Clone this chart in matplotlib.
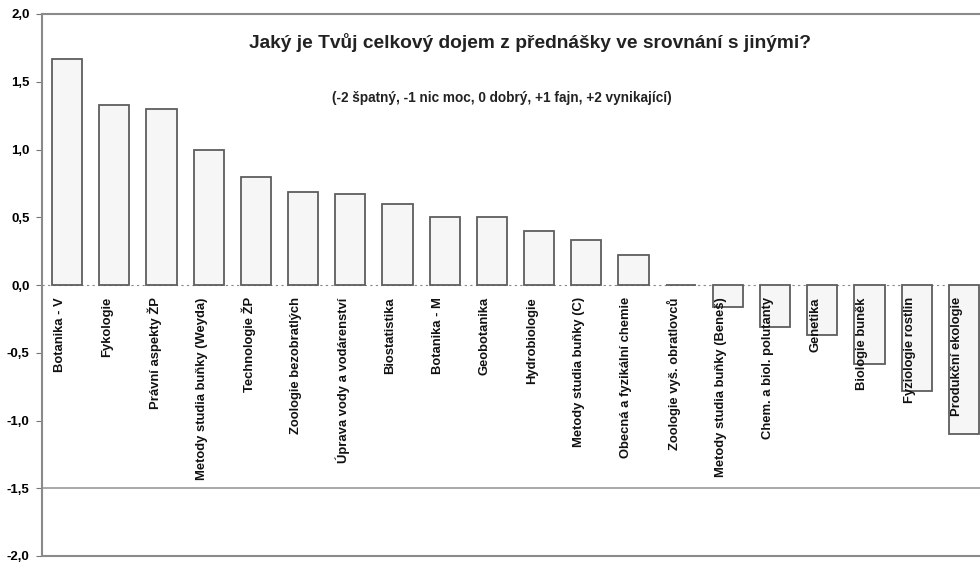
import matplotlib
matplotlib.use("Agg")
import matplotlib.pyplot as plt
from matplotlib.ticker import FixedLocator, FuncFormatter

plt.rcParams['font.family'] = ['Liberation Sans', 'DejaVu Sans']

categories = [
    "Botanika - V", "Fykologie", "Právní aspekty ŽP", "Metody studia buňky (Weyda)",
    "Technologie ŽP", "Zoologie bezobratlých", "Úprava vody a vodárenství",
    "Biostatistika", "Botanika - M", "Geobotanika", "Hydrobiologie",
    "Metody studia buňky (C)", "Obecná a fyzikální chemie", "Zoologie vyš. obratlovců",
    "Metody studia buňky (Beneš)", "Chem. a biol. polutanty", "Genetika",
    "Biologie buněk", "Fyziologie rostlin", "Produkční ekologie",
]
values = [1.67, 1.33, 1.30, 1.00, 0.80, 0.69, 0.67, 0.60, 0.50, 0.50, 0.40,
          0.33, 0.22, 0.0, -0.16, -0.31, -0.37, -0.58, -0.78, -1.10]
yticks = [2.0, 1.5, 1.0, 0.5, 0.0, -0.5, -1.0, -1.5, -2.0]

title = "Jaký je Tvůj celkový dojem z přednášky ve srovnání s jinými?"
subtitle = "(-2 špatný, -1 nic moc, 0 dobrý, +1 fajn, +2 vynikající)"

W, H = 980, 566
fig = plt.figure(figsize=(W / 100, H / 100), dpi=100)
x0, x1 = 42, 980
ytop, ybot = 14, 556
ax = fig.add_axes([x0 / W, 1 - ybot / H, (x1 - x0) / W, (ybot - ytop) / H])

xs = list(range(len(categories)))
ax.bar(xs, values, width=0.64, color='#f6f6f6', edgecolor='#5e5e5e', linewidth=1.3, zorder=3)

ax.set_xlim(-0.53, 19.34)
ax.set_ylim(-2.0, 2.0)

ax.axhline(0, color='#888888', linewidth=0.8, linestyle=(0, (2, 3)), zorder=2)
ax.axhline(-1.5, color='#999999', linewidth=1.2, zorder=1)

for x, lab in zip(xs, categories):
    ax.text(x - 0.15, -0.09, lab, rotation=90, ha='center', va='top', fontsize=9.4,
            fontweight='bold', color='#111111', zorder=4)

ax.yaxis.set_major_locator(FixedLocator(yticks))
ax.yaxis.set_major_formatter(FuncFormatter(lambda v, p: f"{v:.1f}".replace('.', ',')))
ax.tick_params(axis='y', labelsize=9.5, length=4, width=0.8, color='#777777', pad=5)
for t in ax.get_yticklabels():
    t.set_fontweight('bold')
ax.set_xticks([])

for s in ['left', 'top', 'bottom']:
    ax.spines[s].set_color('#8a8a8a')
    ax.spines[s].set_linewidth(1.5)
ax.spines['right'].set_visible(False)

fig.text(530 / W, 1 - 42 / H, title, ha='center', va='center', fontsize=13.8,
         fontweight='bold', color='#222222')
fig.text(502 / W, 1 - 98 / H, subtitle, ha='center', va='center', fontsize=9.8,
         fontweight='bold', color='#222222')

fig.savefig("out.png", dpi=100)
